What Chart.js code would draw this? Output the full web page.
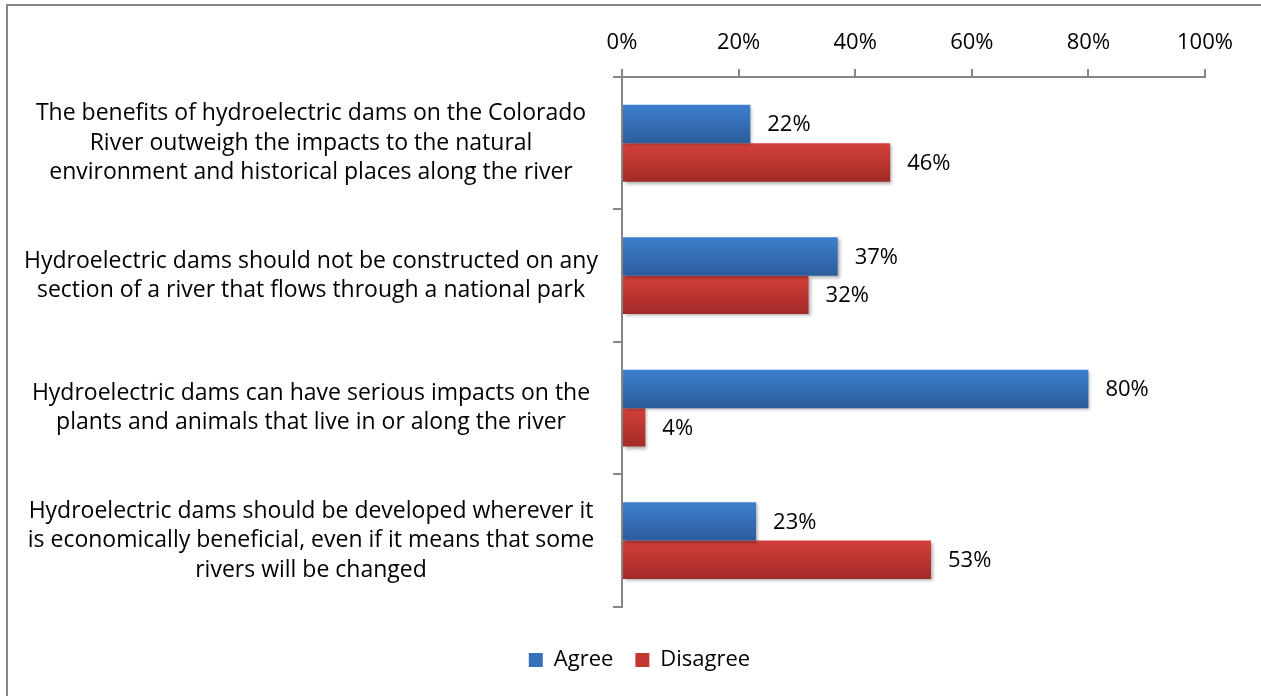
<!DOCTYPE html>
<html>
<head>
<meta charset="utf-8">
<script src="https://cdn.jsdelivr.net/npm/chart.js@4.4.1/dist/chart.umd.min.js"></script>
<style>
    html, body { margin: 0; padding: 0; background: #fff; }
    #wrap { position: relative; width: 1261px; height: 696px; overflow: hidden; }
    #frame { position: absolute; left: 6px; top: 4px; width: 1300px; height: 800px; border: 2px solid #878787; }
    canvas { position: absolute; left: 0; top: 0; }
</style>
</head>
<body>
<div id="wrap">
    <div id="frame"></div>
    <canvas id="chart" width="1261" height="696"></canvas>
</div>
<script>
const categories = [
    ['The benefits of hydroelectric dams on the Colorado', 'River outweigh the impacts to the natural', 'environment and historical places along the river'],
    ['Hydroelectric dams should not be constructed on any', 'section of a river that flows through a national park'],
    ['Hydroelectric dams can have serious impacts on the', 'plants and animals that live in or along the river'],
    ['Hydroelectric dams should be developed wherever it', 'is economically beneficial, even if it means that some', 'rivers will be changed']
];
const seriesNames = ['Agree', 'Disagree'];
const agree = [22, 37, 80, 23];
const disagree = [46, 32, 4, 53];
const xTicks = [0, 20, 40, 60, 80, 100];

const fontFamily = '"Open Sans", "Noto Sans", sans-serif';
const fontSize = 22;
const axisColor = '#868686';
// top / bottom colours of the bar gradients
const barColors = [['#3d7fce', '#2c5c9b'], ['#d4403b', '#a12a27']];

// gives every bar its own vertical gradient once the positions are known
const gradientPlugin = {
    id: 'gradientBars',
    afterDatasetsUpdate(chart) {
        const ctx = chart.ctx;
        chart.data.datasets.forEach((ds, i) => {
            chart.getDatasetMeta(i).data.forEach(el => {
                const top = el.y - el.height / 2;
                const g = ctx.createLinearGradient(0, top, 0, top + el.height);
                g.addColorStop(0, barColors[i][0]);
                g.addColorStop(1, barColors[i][1]);
                el.options = Object.assign({}, el.options, { backgroundColor: g });
            });
        });
    },
    beforeDatasetsDraw(chart) {
        const ctx = chart.ctx;
        ctx.save();
        ctx.shadowColor = 'rgba(0,0,0,0.3)';
        ctx.shadowBlur = 3;
        ctx.shadowOffsetX = 2;
        ctx.shadowOffsetY = 2;
    },
    afterDatasetsDraw(chart) {
        const ctx = chart.ctx;
        ctx.restore();
        // value labels to the right of each bar
        ctx.save();
        ctx.font = fontSize + 'px ' + fontFamily;
        ctx.fillStyle = '#000';
        ctx.textAlign = 'left';
        ctx.textBaseline = 'middle';
        chart.data.datasets.forEach((ds, i) => {
            chart.getDatasetMeta(i).data.forEach((el, j) => {
                ctx.fillText(ds.data[j] + '%', el.x + 17, el.y + 1);
            });
        });
        ctx.restore();
    }
};

// legend sits a little right of the centre in the original
const legendNudge = {
    id: 'legendNudge',
    afterLayout(chart) {
        chart.legend.left += 32;
        chart.legend.right += 32;
    }
};

new Chart('chart', {
    type: 'bar',
    data: {
        labels: categories,
        datasets: [{
            label: seriesNames[0],
            data: agree,
            backgroundColor: '#3570b8'
        }, {
            label: seriesNames[1],
            data: disagree,
            backgroundColor: '#c33733'
        }]
    },
    options: {
        indexAxis: 'y',
        responsive: false,
        animation: false,
        layout: { padding: { left: 10, right: 56, top: 20, bottom: 15 } },
        datasets: { bar: { barPercentage: 1, categoryPercentage: 0.58 } },
        scales: {
            x: {
                position: 'top',
                min: 0,
                max: 100,
                afterBuildTicks: scale => { scale.ticks = xTicks.map(v => ({ value: v })); },
                ticks: {
                    callback: v => v + '%',
                    color: '#000',
                    padding: 13,
                    font: { family: fontFamily, size: fontSize }
                },
                grid: { drawOnChartArea: false, tickLength: 8, color: axisColor, lineWidth: 2 },
                border: { color: axisColor, width: 2 },
                afterFit: scale => { scale.height = 57; }
            },
            y: {
                ticks: {
                    crossAlign: 'center',
                    padding: 15,
                    color: '#000',
                    font: { family: fontFamily, size: 23, lineHeight: 1.28 }
                },
                grid: { drawOnChartArea: false, tickLength: 9, color: axisColor, lineWidth: 2 },
                border: { color: axisColor, width: 2 },
                afterFit: scale => { scale.width = 612; }
            }
        },
        plugins: {
            legend: {
                position: 'bottom',
                title: { display: true, text: '', padding: { top: 0, bottom: 19 }, font: { size: 1 } },
                labels: {
                    boxWidth: 14,
                    boxHeight: 14,
                    padding: 22,
                    color: '#000',
                    font: { family: fontFamily, size: fontSize }
                }
            },
            tooltip: { enabled: false }
        }
    },
    plugins: [gradientPlugin, legendNudge]
});
</script>
</body>
</html>
